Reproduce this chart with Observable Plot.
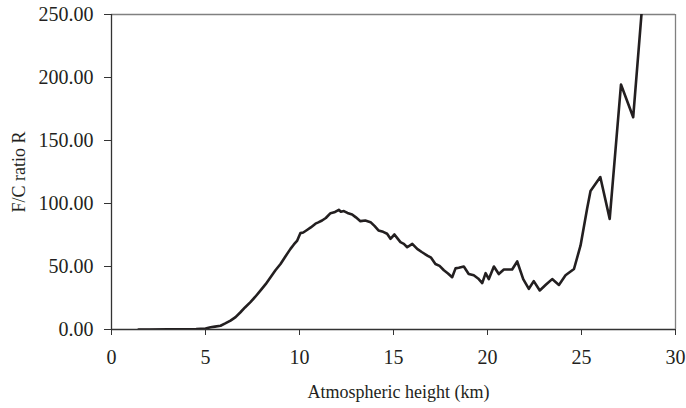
<!DOCTYPE html>
<html>
<head>
<meta charset="utf-8">
<script src="https://cdn.jsdelivr.net/npm/d3@7"></script>
<script src="https://cdn.jsdelivr.net/npm/@observablehq/plot@0.6"></script>
<style>
  html, body { margin: 0; padding: 0; background: #fff; }
  #chart svg { display: block; }
  #chart svg, #chart svg text { font-family: "Times New Roman", "Liberation Serif", Times, serif !important; }
</style>
</head>
<body>
<div id="chart"></div>
<script>
const heights = [1.44,2,3,4,4.5,5,5.27,5.5,5.8,6.05,6.33,6.6,6.86,7.1,7.39,7.65,7.93,8.2,8.46,8.72,8.99,9.25,9.52,9.7,9.88,10.05,10.2,10.4,10.6,10.85,11.0,11.2,11.4,11.65,11.85,12.09,12.2,12.36,12.55,12.8,13.0,13.24,13.5,13.78,14.0,14.2,14.45,14.66,14.84,15.05,15.2,15.37,15.55,15.73,16.0,16.26,16.5,16.8,17.0,17.23,17.45,17.68,17.9,18.12,18.3,18.47,18.74,19.0,19.27,19.5,19.72,19.9,20.07,20.34,20.6,20.87,21.31,21.58,21.9,22.2,22.46,22.78,23.1,23.44,23.8,24.15,24.6,24.95,25.3,25.48,26.0,26.5,27.1,27.75,28.2];
const ratios = [0,0,0.1,0.2,0.4,0.8,1.8,2.3,3,4.8,7,9.8,13.7,17.5,21.7,26,31,36,41.5,47,52,58,64,67.5,70.6,76.5,77,79,81,84,85,86.5,88.5,92.3,93,95,93.5,94,92.5,91.3,89,86,86.5,85.2,82,78.6,77.5,76,72,75.4,72.5,69.3,68,65.3,68,64,61.5,58.7,57,52,50.5,47,44.5,41.5,48.5,49,50,44,43,40.5,36.8,44.7,40,50,44,47.6,47.6,54,40,32.3,38.4,31,35.5,40,35.4,43,48,66.7,96,110,121,87.8,194.4,168.5,252];
const xTicks = [0,5,10,15,20,25,30];
const yTicks = [0,50,100,150,200,250];
const xTitle = "Atmospheric height (km)";
const yTitle = "F/C ratio R";

const data = heights.map((h, i) => ({h, r: ratios[i]}));
const font = "Times New Roman, Liberation Serif, serif";

const chart = Plot.plot({
  width: 686,
  height: 408,
  marginLeft: 111,
  marginRight: 11,
  marginTop: 14,
  marginBottom: 79,
  style: {fontFamily: font, background: "#fff", color: "#231f20"},
  x: {domain: [0, 30]},
  y: {domain: [0, 250]},
  marks: [
    Plot.ruleY([250], {stroke: "#808080", strokeWidth: 1.3}),
    Plot.ruleX([30], {stroke: "#808080", strokeWidth: 1.3}),
    Plot.axisY({ticks: yTicks, tickFormat: d => d.toFixed(2), tickSize: 7, tickPadding: 11, fontSize: 20, label: null, stroke: "#333"}),
    Plot.axisX({ticks: xTicks, tickFormat: d => String(d), tickSize: 6, tickPadding: 14, fontSize: 20, label: null, stroke: "#333"}),
    Plot.ruleX([0], {stroke: "#333", strokeWidth: 1.3}),
    Plot.ruleY([0], {stroke: "#333", strokeWidth: 1.3}),
    Plot.line(data, {x: "h", y: "r", stroke: "#231f20", strokeWidth: 2.6, clip: true}),
    Plot.text([yTitle], {frameAnchor: "left", textAnchor: "middle", dx: -92, rotate: -90, fontSize: 18, fill: "#231f20"}),
    Plot.text([xTitle], {frameAnchor: "bottom", textAnchor: "middle", dy: 68, dx: 5, fontSize: 18, fill: "#231f20"})
  ]
});
document.getElementById("chart").appendChild(chart);
</script>
</body>
</html>
